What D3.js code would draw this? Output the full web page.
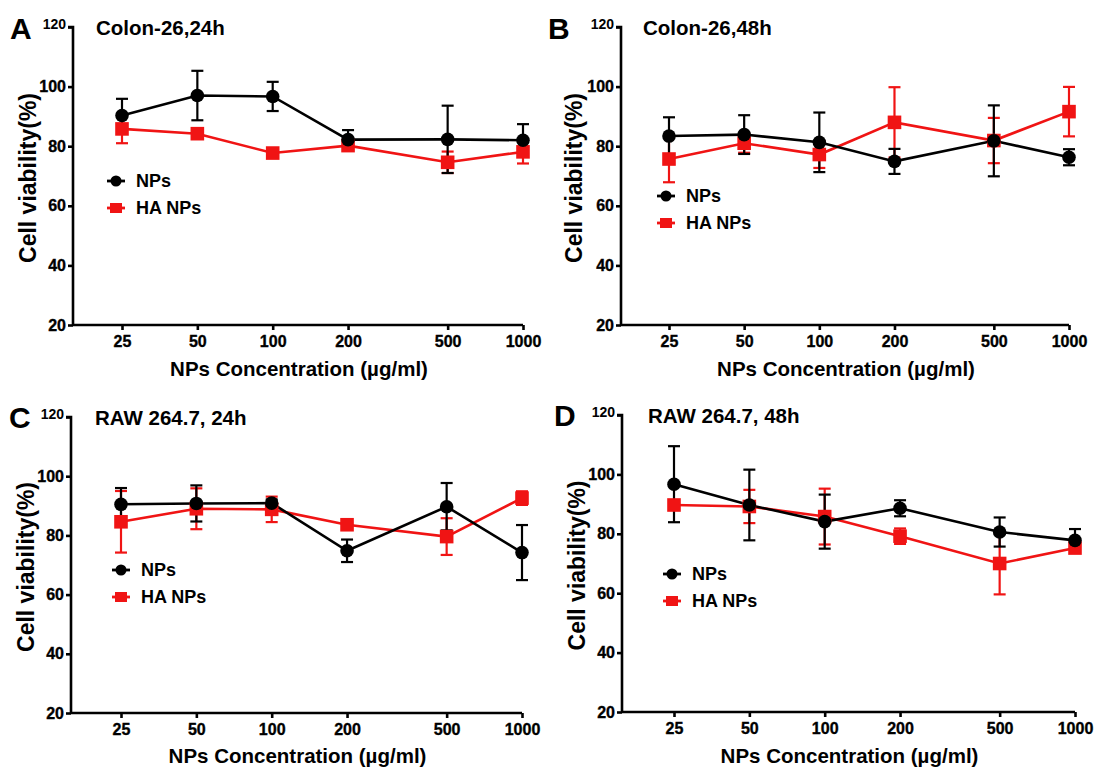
<!DOCTYPE html>
<html>
<head>
<meta charset="utf-8">
<script src="https://cdn.jsdelivr.net/npm/d3@7"></script>
<style>
  body { margin: 0; background: #fff; }
  svg { display: block; }
  text { font-family: "Liberation Sans", Arial, sans-serif; font-weight: bold; fill: #000; }
</style>
</head>
<body>
<script>
// concentrations (µg/ml) and y ticks
const conc = [25, 50, 100, 200, 500, 1000];
const yTicks = [20, 40, 60, 80, 100, 120];
const seriesNames = ["NPs", "HA NPs"];

// A: Colon-26, 24h
const aNPs = [90.3, 97.0, 96.7, 82.2, 82.3, 82.0];
const aNPsErr = [5.6, 8.3, 4.9, 3.2, 11.3, 5.4];
const aHA = [85.8, 84.2, 77.7, 80.2, 74.6, 78.1];
const aHAErr = [4.8, 1.2, 1.0, 1.5, 3.6, 3.9];

// B: Colon-26, 48h
const bNPs = [83.4, 83.9, 81.3, 74.9, 81.8, 76.3];
const bNPsErr = [6.3, 6.5, 10.0, 4.2, 11.9, 2.7];
const bHA = [75.7, 81.0, 77.2, 88.0, 81.9, 91.6];
const bHAErr = [7.8, 3.2, 4.5, 11.8, 7.6, 8.3];

// C: RAW 264.7, 24h
const cNPs = [90.5, 90.8, 90.9, 74.8, 89.7, 74.2];
const cNPsErr = [5.5, 6.1, 1.2, 3.8, 8.0, 9.3];
const cHA = [84.6, 89.0, 88.8, 83.6, 79.6, 92.6];
const cHAErr = [10.4, 6.9, 4.3, 0.8, 6.2, 2.3];

// D: RAW 264.7, 48h
const dNPs = [96.7, 89.7, 84.1, 88.6, 80.6, 77.8];
const dNPsErr = [12.8, 11.9, 9.1, 2.7, 4.9, 3.8];
const dHA = [89.7, 89.2, 85.8, 79.2, 70.0, 75.2];
const dHAErr = [1.0, 5.6, 9.4, 2.6, 10.4, 1.5];

const black = "#000";
const red = "#f01414";
const font = "'Liberation Sans', Arial, sans-serif";

const panels = [
  { letter: "A", title: "Colon-26,24h", nps: aNPs, npsErr: aNPsErr, ha: aHA, haErr: aHAErr,
    axisX: 73, x25: 122, x1000: 523, yTop: 27, yBot: 325, legX: 116, legY: 181,
    letterX: 10, letterY: 39, titleX: 96, titleY: 35, ylabX: 28, xlabY: 376 },
  { letter: "B", title: "Colon-26,48h", nps: bNPs, npsErr: bNPsErr, ha: bHA, haErr: bHAErr,
    axisX: 621, x25: 669, x1000: 1069, yTop: 27, yBot: 325, legX: 666, legY: 196,
    letterX: 548, letterY: 39, titleX: 643, titleY: 35, ylabX: 574, xlabY: 376 },
  { letter: "C", title: "RAW 264.7, 24h", nps: cNPs, npsErr: cNPsErr, ha: cHA, haErr: cHAErr,
    axisX: 71, x25: 121, x1000: 522, yTop: 417, yBot: 713, legX: 121, legY: 570,
    letterX: 9, letterY: 428, titleX: 95, titleY: 425, ylabX: 26, xlabY: 763 },
  { letter: "D", title: "RAW 264.7, 48h", nps: dNPs, npsErr: dNPsErr, ha: dHA, haErr: dHAErr,
    axisX: 622, x25: 674, x1000: 1075, yTop: 415, yBot: 712, legX: 672, legY: 574,
    letterX: 554, letterY: 426, titleX: 648, titleY: 423, ylabX: 577, xlabY: 763 }
];

const svg = d3.select("body").append("svg").attr("width", 1096).attr("height", 767);

panels.forEach(function (p) {
  const g = svg.append("g");
  const x = d3.scaleLog().domain([25, 1000]).range([p.x25, p.x1000]);
  const y = d3.scaleLinear().domain([20, 120]).range([p.yBot, p.yTop]);

  // y axis
  const yAxis = g.append("g").attr("transform", `translate(${p.axisX},0)`)
    .call(d3.axisLeft(y).tickValues(yTicks).tickSize(5).tickPadding(2).tickFormat(d3.format("d")));
  yAxis.attr("font-family", font).attr("font-size", 16).attr("font-weight", "bold");
  yAxis.select(".domain").attr("d", `M-5,${p.yTop}H0V${p.yBot}`);
  yAxis.selectAll("path, line").attr("stroke", black).attr("stroke-width", 2.6);
  yAxis.selectAll("text").attr("fill", black).attr("stroke", black).attr("stroke-width", 0.35);
  yAxis.selectAll(".tick").filter(d => d === 120).select("text")
    .attr("font-size", 14).attr("dy", "0.1em").attr("stroke-width", 0);

  // x axis (line starts at the y axis)
  const xAxis = g.append("g").attr("transform", `translate(0,${p.yBot})`)
    .call(d3.axisBottom(x).tickValues(conc).tickSize(5).tickPadding(6).tickFormat(d3.format("d")));
  xAxis.attr("font-family", font).attr("font-size", 16).attr("font-weight", "bold");
  xAxis.select(".domain").attr("d", `M${p.axisX},0H${p.x1000}`);
  xAxis.selectAll("path, line").attr("stroke", black).attr("stroke-width", 2.6);
  xAxis.selectAll("text").attr("fill", black).attr("stroke", black).attr("stroke-width", 0.35);

  // labels
  g.append("text").attr("x", p.letterX).attr("y", p.letterY).style("font-size", "30px").text(p.letter);
  g.append("text").attr("x", p.titleX).attr("y", p.titleY).style("font-size", "20.5px").text(p.title);
  g.append("text")
    .attr("transform", `translate(${p.ylabX},${(p.yTop + p.yBot) / 2 + 2}) rotate(-90)`)
    .attr("text-anchor", "middle").attr("dominant-baseline", "central")
    .style("font-size", "23px").text("Cell viability(%)");
  g.append("text").attr("x", (p.axisX + p.x1000) / 2 + 1).attr("y", p.xlabY)
    .attr("text-anchor", "middle").style("font-size", "20.5px").text("NPs Concentration (µg/ml)");

  const series = [
    { name: seriesNames[1], vals: p.ha, errs: p.haErr, color: red, shape: "square" },
    { name: seriesNames[0], vals: p.nps, errs: p.npsErr, color: black, shape: "circle" }
  ];

  const line = d3.line().x((d, i) => x(conc[i])).y(d => y(d));

  series.forEach(function (s) {
    const pts = s.vals.map((v, i) => ({ c: conc[i], v: v, e: s.errs[i] }));
    const eg = g.append("g").attr("stroke", s.color).attr("stroke-width", 2.2);
    eg.selectAll("line.bar").data(pts).enter().append("line")
      .attr("x1", d => x(d.c)).attr("x2", d => x(d.c))
      .attr("y1", d => y(d.v - d.e)).attr("y2", d => y(d.v + d.e));
    eg.selectAll("line.capT").data(pts).enter().append("line")
      .attr("x1", d => x(d.c) - 6).attr("x2", d => x(d.c) + 6)
      .attr("y1", d => y(d.v + d.e)).attr("y2", d => y(d.v + d.e));
    eg.selectAll("line.capB").data(pts).enter().append("line")
      .attr("x1", d => x(d.c) - 6).attr("x2", d => x(d.c) + 6)
      .attr("y1", d => y(d.v - d.e)).attr("y2", d => y(d.v - d.e));
    g.append("path").datum(s.vals).attr("d", line)
      .attr("fill", "none").attr("stroke", s.color).attr("stroke-width", 2.6);
  });

  series.forEach(function (s) {
    const pts = s.vals.map((v, i) => ({ c: conc[i], v: v }));
    if (s.shape === "circle") {
      g.selectAll(null).data(pts).enter().append("circle")
        .attr("cx", d => x(d.c)).attr("cy", d => y(d.v)).attr("r", 6.8).attr("fill", s.color);
    } else {
      g.selectAll(null).data(pts).enter().append("rect")
        .attr("x", d => x(d.c) - 6.8).attr("y", d => y(d.v) - 6.8)
        .attr("width", 13.6).attr("height", 13.6).attr("fill", s.color);
    }
  });

  // legend
  const leg = [
    { name: seriesNames[0], color: black, shape: "circle", dy: 0 },
    { name: seriesNames[1], color: red, shape: "square", dy: 27 }
  ];
  leg.forEach(function (l) {
    const ly = p.legY + l.dy;
    g.append("line").attr("x1", p.legX - 9).attr("x2", p.legX + 9).attr("y1", ly).attr("y2", ly)
      .attr("stroke", l.color).attr("stroke-width", 2.8);
    if (l.shape === "circle") {
      g.append("circle").attr("cx", p.legX).attr("cy", ly).attr("r", 5.5).attr("fill", l.color);
    } else {
      g.append("rect").attr("x", p.legX - 6).attr("y", ly - 5).attr("width", 12).attr("height", 10).attr("fill", l.color);
    }
    g.append("text").attr("x", p.legX + 20).attr("y", ly).attr("dominant-baseline", "central")
      .style("font-size", "18px").text(l.name);
  });
});
</script>
</body>
</html>
